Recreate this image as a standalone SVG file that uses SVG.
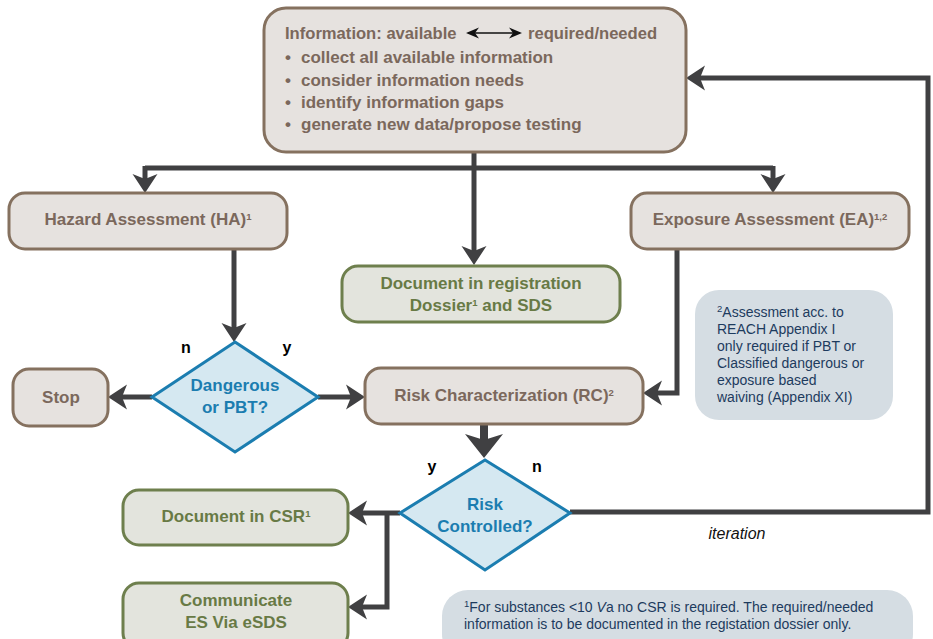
<svg xmlns="http://www.w3.org/2000/svg" width="933" height="639" viewBox="0 0 933 639">
<defs>
<style>
.bx{fill:#e6e2df;stroke:#85715f;stroke-width:3}
.gb{fill:#e3e4dd;stroke:#6e7f4d;stroke-width:3}
.dm{fill:#d5e8f1;stroke:#1b7db0;stroke-width:3}
.nb{fill:#d5dde3;stroke:none}
.t{font-family:"Liberation Sans",Arial,sans-serif;font-weight:bold;font-size:17px}
.tb{fill:#7b685c}
.tg{fill:#687a45}
.tq{fill:#1b7db0;text-anchor:middle}
.tn{font-family:"Liberation Sans",Arial,sans-serif;font-size:14px;fill:#1d3b5e}
.lb{font-family:"Liberation Sans",Arial,sans-serif;font-weight:bold;font-size:16px;fill:#000}
.c{fill:none;stroke:#404042;stroke-width:5;stroke-linejoin:miter}
.sup{font-size:9.5px}
</style>
<marker id="ah" markerUnits="userSpaceOnUse" viewBox="-10 -13 22 26" refX="0" refY="0" markerWidth="22" markerHeight="26" orient="auto">
<path d="M10,0 L-9,-12.5 L-4,0 L-9,12.5 Z" fill="#404042"/>
</marker>
<marker id="ahb" markerUnits="userSpaceOnUse" viewBox="-14 -20 30 40" refX="0" refY="0" markerWidth="30" markerHeight="40" orient="auto">
<path d="M12,0 L-12,-19 L-6,0 L-12,19 Z" fill="#404042"/>
</marker>
<marker id="sa" markerUnits="userSpaceOnUse" viewBox="-2 -6 14 12" refX="10" refY="0" markerWidth="14" markerHeight="12" orient="auto-start-reverse">
<path d="M12,0 L-1,-5.5 L3,0 L-1,5.5 Z" fill="#111"/>
</marker>
</defs>

<g id="connectors">
<path class="c" d="M474,152 V168"/>
<path class="c" d="M145,168 H773"/>
<path class="c" d="M145,166 V183" marker-end="url(#ah)"/>
<path class="c" d="M773,166 V183" marker-end="url(#ah)"/>
<path class="c" d="M474,166 V255" marker-end="url(#ah)"/>
<path class="c" d="M234,249 V332" marker-end="url(#ah)"/>
<path class="c" d="M152,397 H118" marker-end="url(#ah)"/>
<path class="c" d="M318,397 H355" marker-end="url(#ah)"/>
<path class="c" d="M677,249 V393 H653" marker-end="url(#ah)"/>
<path class="c" d="M484,425 V446" style="stroke-width:8" marker-end="url(#ahb)"/>
<path class="c" d="M400,513 H358" marker-end="url(#ah)"/>
<path class="c" d="M387,513 V607 H358" marker-end="url(#ah)"/>
<path class="c" d="M570,512 H928 V78 H696" marker-end="url(#ah)"/>
<text x="737" y="539" style="font-family:'Liberation Sans',Arial,sans-serif;font-style:italic;font-size:16px;fill:#111;text-anchor:middle">iteration</text>
<text class="lb" x="186" y="353" text-anchor="middle">n</text>
<text class="lb" x="287" y="353" text-anchor="middle">y</text>
<text class="lb" x="432" y="472" text-anchor="middle">y</text>
<text class="lb" x="537" y="472" text-anchor="middle">n</text>
</g>

<g id="info">
<rect class="bx" x="264" y="8" width="422" height="144" rx="22"/>
<text class="t tb" x="285" y="39" style="font-size:16.6px">Information: available</text>
<line x1="468" y1="33" x2="520" y2="33" stroke="#111" stroke-width="1.6" marker-start="url(#sa)" marker-end="url(#sa)"/>
<text class="t tb" x="528" y="39" style="font-size:16.6px">required/needed</text>
<text class="t tb" x="285" y="63">•</text><text class="t tb" x="301" y="63">collect all available information</text>
<text class="t tb" x="285" y="86">•</text><text class="t tb" x="301" y="86">consider information needs</text>
<text class="t tb" x="285" y="108">•</text><text class="t tb" x="301" y="108">identify information gaps</text>
<text class="t tb" x="285" y="130">•</text><text class="t tb" x="301" y="130">generate new data/propose testing</text>
</g>

<g id="ha">
<rect class="bx" x="9" y="193" width="278" height="56" rx="16"/>
<text class="t tb" x="148" y="225" text-anchor="middle">Hazard Assessment (HA)<tspan class="sup" baseline-shift="super">1</tspan></text>
</g>

<g id="ea">
<rect class="bx" x="631" y="193" width="278" height="56" rx="16"/>
<text class="t tb" x="770" y="225" text-anchor="middle">Exposure Assessment (EA)<tspan class="sup" baseline-shift="super">1,2</tspan></text>
</g>

<g id="docreg">
<rect class="gb" x="342" y="266" width="278" height="56" rx="16"/>
<text class="t tg" x="481" y="289" text-anchor="middle">Document in registration</text>
<text class="t tg" x="481" y="311" text-anchor="middle">Dossier<tspan class="sup" baseline-shift="super">1</tspan> and SDS</text>
</g>

<g id="note2">
<rect class="nb" x="695" y="290" width="198" height="130" rx="24"/>
<text class="tn" x="717" y="317"><tspan class="sup" baseline-shift="super">2</tspan>Assessment acc. to</text>
<text class="tn" x="717" y="334">REACH Appendix I</text>
<text class="tn" x="717" y="351">only required if PBT or</text>
<text class="tn" x="717" y="368">Classified dangerous or</text>
<text class="tn" x="717" y="385">exposure based</text>
<text class="tn" x="717" y="402">waiving (Appendix XI)</text>
</g>

<g id="dangerous">
<polygon class="dm" points="235,342 318,397 235,452 152,397"/>
<text class="t tq" x="235" y="391">Dangerous</text>
<text class="t tq" x="235" y="413">or PBT?</text>
</g>

<g id="stop">
<rect class="bx" x="13" y="369" width="95" height="57" rx="16"/>
<text class="t tb" x="61" y="403" text-anchor="middle">Stop</text>
</g>

<g id="rc">
<rect class="bx" x="365" y="368" width="278" height="56" rx="16"/>
<text class="t tb" x="504" y="401" text-anchor="middle">Risk Characterization (RC)<tspan class="sup" baseline-shift="super">2</tspan></text>
</g>

<g id="riskctl">
<polygon class="dm" points="485,460 570,513 485,570 400,513"/>
<text class="t tq" x="485" y="510">Risk</text>
<text class="t tq" x="485" y="532">Controlled?</text>
</g>

<g id="doccsr">
<rect class="gb" x="123" y="490" width="225" height="55" rx="16"/>
<text class="t tg" x="236" y="522" text-anchor="middle">Document in CSR<tspan class="sup" baseline-shift="super">1</tspan></text>
</g>

<g id="communicate">
<rect class="gb" x="123" y="583" width="225" height="66" rx="16"/>
<text class="t tg" x="236" y="606" text-anchor="middle">Communicate</text>
<text class="t tg" x="236" y="628" text-anchor="middle">ES Via eSDS</text>
</g>

<g id="note1">
<rect class="nb" x="442" y="590" width="471" height="70" rx="26"/>
<text class="tn" x="464" y="612"><tspan class="sup" baseline-shift="super">1</tspan>For substances &lt;10 <tspan font-style="italic">V</tspan>a no CSR is required. The required/needed</text>
<text class="tn" x="464" y="629">information is to be documented in the registation dossier only.</text>
</g>
</svg>
